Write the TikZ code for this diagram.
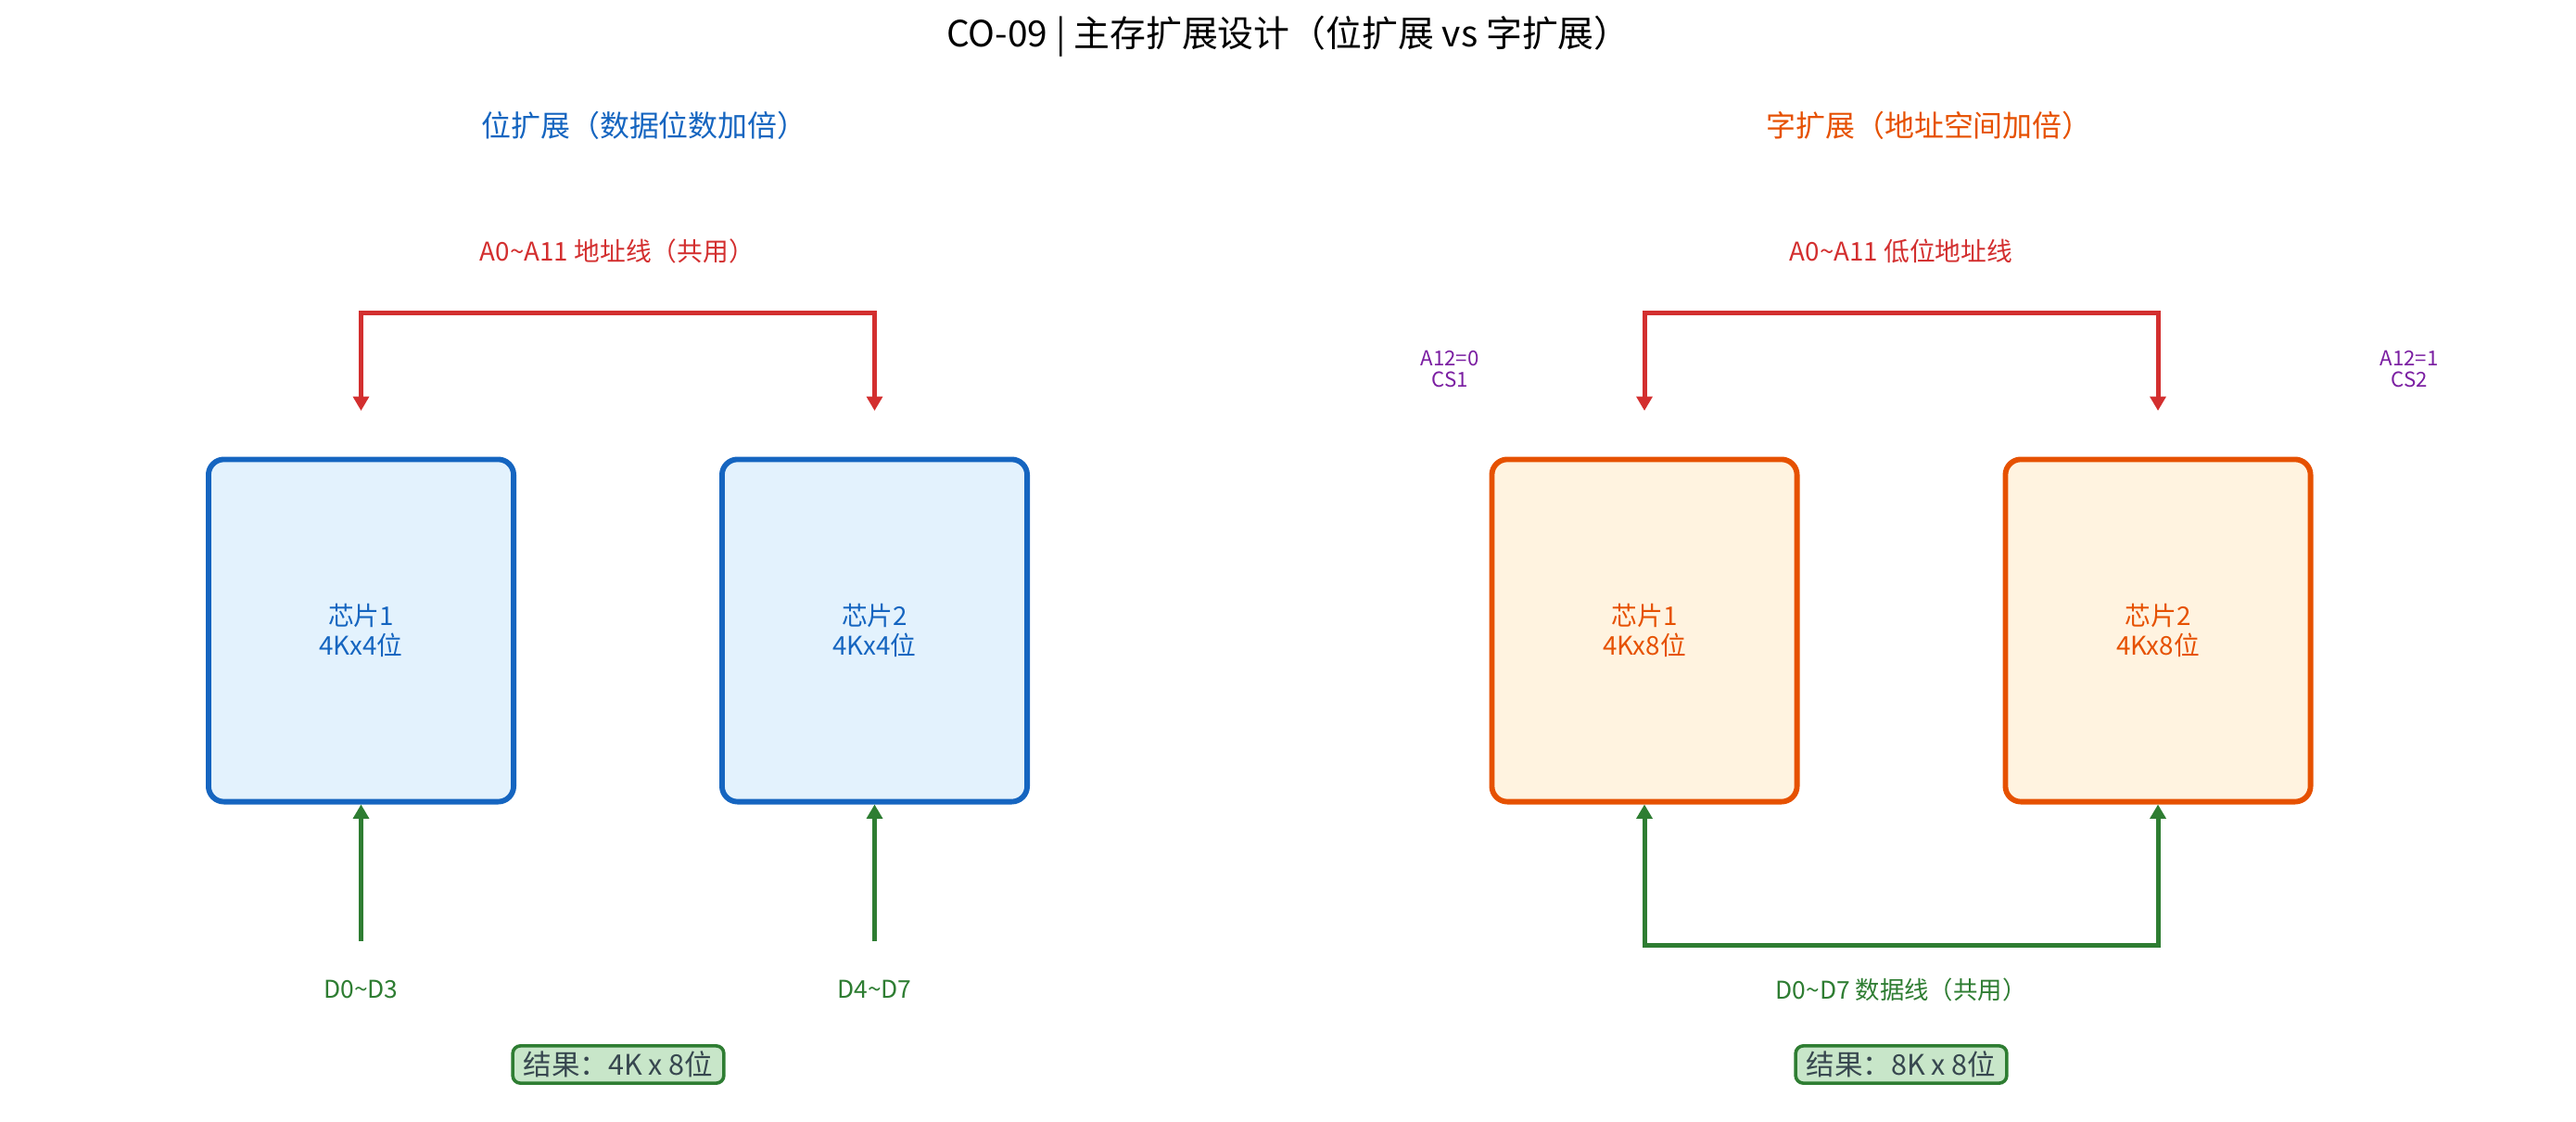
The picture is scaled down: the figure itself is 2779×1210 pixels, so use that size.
\documentclass[tikz,border=0pt]{standalone}
\usepackage{fontspec}
\setmainfont{Noto Sans CJK SC}
\usetikzlibrary{arrows.meta}
\definecolor{bluebd}{HTML}{1565C0}
\definecolor{bluefill}{HTML}{E3F2FD}
\definecolor{orgbd}{HTML}{E65100}
\definecolor{orgfill}{HTML}{FFF3E0}
\definecolor{addrred}{HTML}{D32F2F}
\definecolor{datagreen}{HTML}{2E7D32}
\definecolor{cspurple}{HTML}{7B1FA2}
\definecolor{resfill}{HTML}{C8E6C9}
\definecolor{restext}{HTML}{37474F}
\begin{document}
\begin{tikzpicture}[x=0.36pt,y=-0.36pt,
  chipbase/.style={line width=2.1pt, rounded corners=6pt, minimum width=118.5pt,
    minimum height=132.9pt, align=center, inner sep=0pt,
    font=\fontsize{10}{11.5}\selectfont},
  chipblue/.style={chipbase, draw=bluebd, fill=bluefill, text=bluebd},
  chiporg/.style={chipbase, draw=orgbd, fill=orgfill, text=orgbd},
  addrboth/.style={draw=addrred, line width=1.8pt, arrows={{Triangle[length=5.5pt,width=6pt]}-{Triangle[length=5.5pt,width=6pt]}}},
  databus/.style={draw=datagreen, line width=1.8pt, arrows={-{Triangle[length=5.5pt,width=6pt]}}},
  databoth/.style={draw=datagreen, line width=1.8pt, arrows={{Triangle[length=5.5pt,width=6pt]}-{Triangle[length=5.5pt,width=6pt]}}},
  addrlabel/.style={text=addrred, font=\fontsize{10}{12}\selectfont, inner sep=0pt},
  datalabel/.style={text=datagreen, font=\fontsize{9.5}{11}\selectfont, inner sep=0pt},
  cslabel/.style={text=cspurple, font=\fontsize{8}{8.6}\selectfont, align=center, inner sep=0pt},
  resbox/.style={draw=datagreen, fill=resfill, text=restext, line width=1.3pt,
    rounded corners=3pt, minimum width=82pt, minimum height=14.5pt, inner sep=2pt,
    font=\fontsize{11}{13}\selectfont},
]
\path[use as bounding box, fill=white] (0,0) rectangle (2779,1210);

% title
\node[font=\fontsize{14}{16}\selectfont, inner sep=0pt] (title) at (1390,39) {CO-09 | 主存扩展设计（位扩展 vs 字扩展）};

% ---------- left panel: bit expansion ----------
\node[text=bluebd, font=\fontsize{11.5}{13}\selectfont, inner sep=0pt] (subL) at (695,135) {位扩展（数据位数加倍）};
\node[addrlabel] (addrL) at (666,271) {A0\textasciitilde A11 地址线（共用）};

\node[chipblue] (c1) at (389.5,680) {芯片1\\4Kx4位};
\node[chipblue] (c2) at (943.5,680) {芯片2\\4Kx4位};

\coordinate (aL1) at (389.5,443);
\coordinate (aL2) at (943.5,443);
\draw[addrboth] (aL1) -- ++(0,-105) -| (aL2);

\coordinate (dL1) at (389.5,1015);
\coordinate (dL2) at (943.5,1015);
\draw[databus] (dL1) -- (c1.south);
\draw[databus] (dL2) -- (c2.south);

\node[datalabel] (dlab1) at (389.5,1067) {D0\textasciitilde D3};
\node[datalabel] (dlab2) at (943.5,1067) {D4\textasciitilde D7};

\node[resbox] (resL) at (667,1148) {结果：4K x 8位};

% ---------- right panel: word expansion ----------
\node[text=orgbd, font=\fontsize{11.5}{13}\selectfont, inner sep=0pt] (subR) at (2081,135) {字扩展（地址空间加倍）};
\node[addrlabel] (addrR) at (2051,271) {A0\textasciitilde A11 低位地址线};

\node[cslabel] (cs1) at (1564,398) {A12=0\\CS1};
\node[cslabel] (cs2) at (2599,398) {A12=1\\CS2};

\node[chiporg] (c3) at (1774,680) {芯片1\\4Kx8位};
\node[chiporg] (c4) at (2328,680) {芯片2\\4Kx8位};

\coordinate (aR1) at (1774,443);
\coordinate (aR2) at (2328,443);
\draw[addrboth] (aR1) -- ++(0,-105) -| (aR2);

\coordinate (dbus) at (2051,1019);
\draw[databoth] (c3.south) -- (c3.south |- dbus) -| (c4.south);

\node[datalabel] (dlab3) at (2051,1067) {D0\textasciitilde D7 数据线（共用）};

\node[resbox] (resR) at (2051,1148) {结果：8K x 8位};
\end{tikzpicture}
\end{document}
